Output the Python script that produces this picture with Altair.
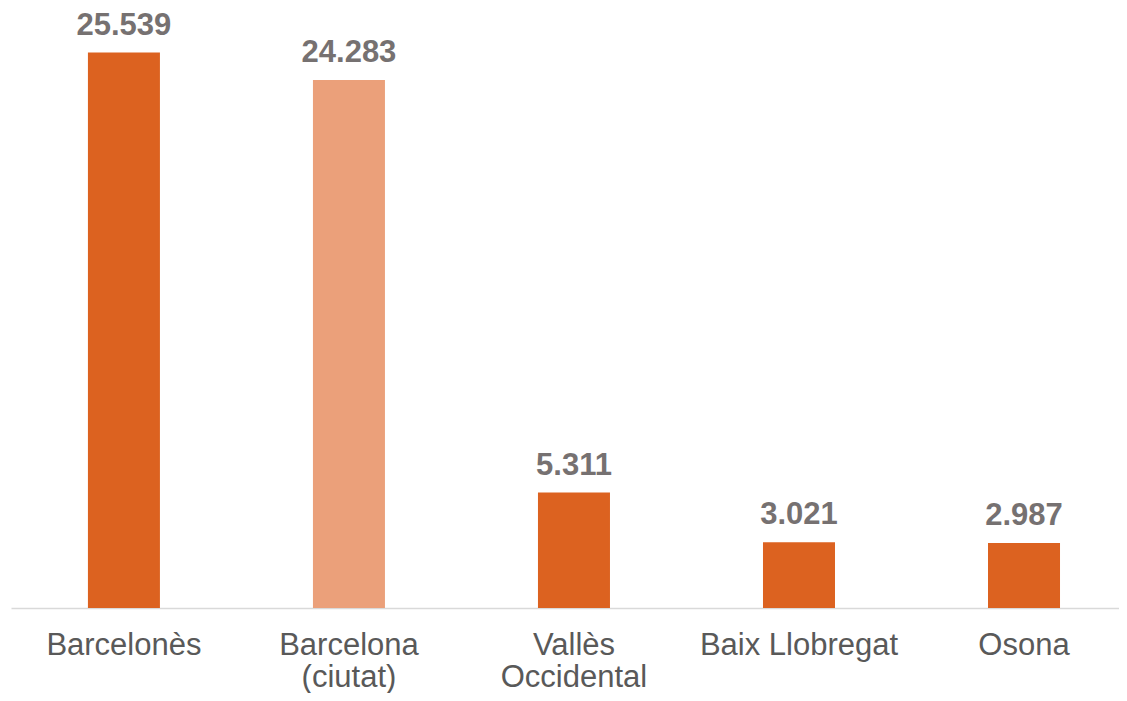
import altair as alt
import pandas as pd

categories = ["Barcelonès", "Barcelona\n(ciutat)", "Vallès\nOccidental", "Baix Llobregat", "Osona"]
values = [25539, 24283, 5311, 3021, 2987]
colors = ["#DC6220", "#EBA07A", "#DC6220", "#DC6220", "#DC6220"]

df = pd.DataFrame({
    "cat": categories,
    "value": values,
    "color": colors,
    "label": [f"{v:,}".replace(",", ".") for v in values],
})

x = alt.X(
    "cat:N",
    sort=categories,
    title=None,
    scale=alt.Scale(paddingInner=0.68, paddingOuter=0.302, align=0.566),
    axis=alt.Axis(
        labelAngle=0,
        labelExpr="split(datum.label, '\\n')",
        labelFont="Liberation Sans",
        labelFontSize=31,
        labelColor="#595959",
        labelBaseline="alphabetic",
        labelPadding=46,
        labelLineHeight=32,
        labelLimit=0,
        ticks=False,
        tickSize=0,
        domainColor="#D9D9D9",
        domainWidth=1.5,
        grid=False,
    ),
)
y = alt.Y("value:Q", scale=alt.Scale(domain=[0, 27590], nice=False), axis=None)

bars = alt.Chart(df).mark_bar().encode(
    x=x, y=y, color=alt.Color("color:N", scale=None)
)
text = alt.Chart(df).mark_text(
    dy=-18, baseline="alphabetic", align="center",
    font="Liberation Sans", fontSize=31, fontWeight="bold", color="#767171"
).encode(x=alt.X("cat:N", sort=categories), y=y, text="label:N")

chart = (bars + text).properties(
    width=1108, height=600,
    autosize=alt.AutoSizeParams(type="none"),
    padding={"left": 3, "top": 0, "right": 0, "bottom": 85},
).configure(background="white").configure_view(stroke=None, strokeWidth=0)

chart.save("out.html", embed_options={"renderer": "svg", "actions": False})
